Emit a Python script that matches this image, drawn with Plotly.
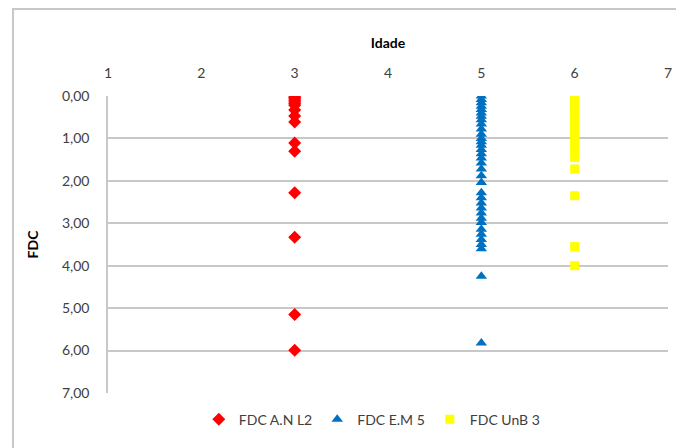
import plotly.graph_objects as go

# Data
series_names = ["FDC A.N L2", "FDC E.M 5", "FDC UnB 3"]
idade_an = 3
idade_em = 5
idade_unb = 6
fdc_an = [0.00, 0.03, 0.06, 0.10, 0.14, 0.18, 0.22, 0.33, 0.47, 0.61, 1.11, 1.30, 2.28, 3.33, 5.15, 5.99]
fdc_em = [0.00, 0.08, 0.16, 0.24, 0.32, 0.40, 0.48, 0.56, 0.66, 0.78, 0.90, 1.00, 1.08, 1.16,
          1.26, 1.36, 1.46, 1.58, 1.72, 1.88, 2.04, 2.28, 2.40, 2.52, 2.64, 2.76, 2.88, 2.98,
          3.14, 3.26, 3.38, 3.50, 3.60, 4.25, 5.82]
fdc_unb = [0.00, 0.08, 0.16, 0.24, 0.32, 0.40, 0.50, 0.60, 0.70, 0.80, 0.90, 1.00, 1.10, 1.20,
           1.30, 1.45, 1.72, 2.35, 3.55, 4.00]
x_ticks = [1, 2, 3, 4, 5, 6, 7]
y_ticks = [0, 1, 2, 3, 4, 5, 6, 7]

FONT = "Lato, 'Open Sans', sans-serif"

fig = go.Figure()
fig.add_trace(go.Scatter(x=[idade_an] * len(fdc_an), y=fdc_an, mode="markers", name=series_names[0],
                         marker=dict(symbol="diamond", size=10, color="#FF0000")))
fig.add_trace(go.Scatter(x=[idade_em] * len(fdc_em), y=fdc_em, mode="markers", name=series_names[1],
                         marker=dict(symbol="triangle-up", size=10, color="#0070C0")))
fig.add_trace(go.Scatter(x=[idade_unb] * len(fdc_unb), y=fdc_unb, mode="markers", name=series_names[2],
                         marker=dict(symbol="square", size=9, color="#FFFF00")))

fig.update_layout(
    width=676, height=440,
    margin=dict(l=100, r=16, t=88, b=55),
    paper_bgcolor="white", plot_bgcolor="white",
    separators=",.",
    font=dict(family=FONT, size=14, color="#404040"),
    showlegend=True,
    legend=dict(orientation="h", x=0.472, xanchor="center", y=-0.09, yanchor="middle",
                font=dict(family=FONT, size=14, color="#404040"), itemwidth=30,
                bgcolor="rgba(0,0,0,0)"),
    xaxis=dict(side="top", range=[1, 7], tickvals=x_ticks, showgrid=False, zeroline=False,
               showline=False, ticks="", ticklen=0, automargin=False, ticklabelstandoff=14,
               title=dict(text="<b>Idade</b>", font=dict(family=FONT, size=14, color="#000000"), standoff=12)),
    yaxis=dict(range=[7, 0], tickvals=y_ticks, tickformat=".2f", showgrid=True,
               gridcolor="#C8C8C8", gridwidth=1.5, zeroline=False, automargin=False,
               showline=True, linecolor="#C8C8C8", linewidth=1.5, ticks="", ticklabelstandoff=14,
               title=dict(text="<b>FDC</b>", font=dict(family=FONT, size=14, color="#000000"), standoff=20)),
    shapes=[dict(type="rect", xref="paper", yref="paper",
                 x0=(5 - 100) / 560, x1=1.2, y0=-0.3, y1=1 + (88 - 1) / 297,
                 line=dict(color="#C8C8C8", width=2), fillcolor="rgba(0,0,0,0)", layer="below")],
)

fig.write_html("out.html")
